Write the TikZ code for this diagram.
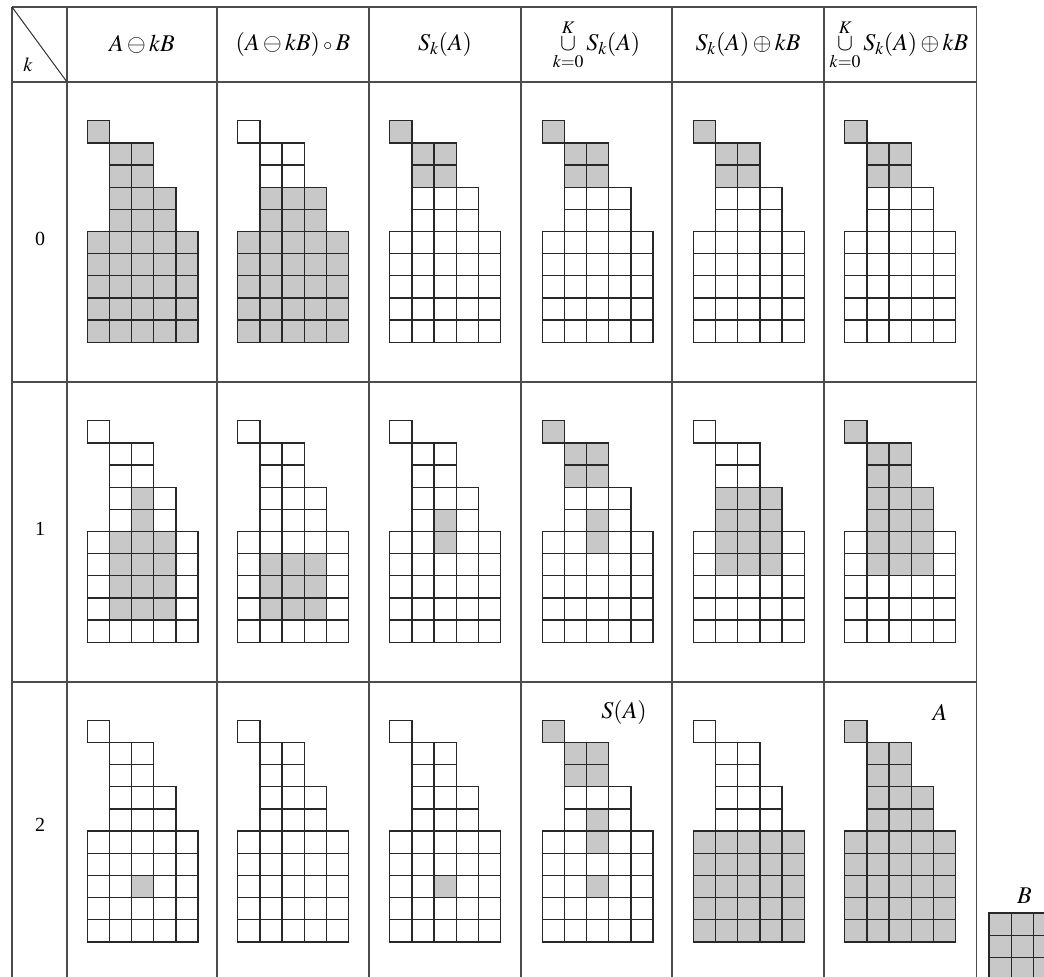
\documentclass[tikz,border=0pt]{standalone}
\usepackage{mathptmx}
\usepackage{fontspec}
\setmainfont{Liberation Serif}
\definecolor{cellgray}{RGB}{200,200,200}
\definecolor{linecol}{RGB}{40,40,40}
\def\cs{22.16}
\def\Acells{0/0,1/1,1/2,2/1,2/2,3/1,3/2,3/3,4/1,4/2,4/3,5/0,5/1,5/2,5/3,5/4,6/0,6/1,6/2,6/3,6/4,7/0,7/1,7/2,7/3,7/4,8/0,8/1,8/2,8/3,8/4,9/0,9/1,9/2,9/3,9/4}
\def\Szero{0/0,1/1,1/2,2/1,2/2}
\def\Openzero{3/1,3/2,3/3,4/1,4/2,4/3,5/0,5/1,5/2,5/3,5/4,6/0,6/1,6/2,6/3,6/4,7/0,7/1,7/2,7/3,7/4,8/0,8/1,8/2,8/3,8/4,9/0,9/1,9/2,9/3,9/4}
\def\Erone{3/2,4/2,5/1,5/2,5/3,6/1,6/2,6/3,7/1,7/2,7/3,8/1,8/2,8/3}
\def\Openone{6/1,6/2,6/3,7/1,7/2,7/3,8/1,8/2,8/3}
\def\Sone{4/2,5/2}
\def\Uone{0/0,1/1,1/2,2/1,2/2,4/2,5/2}
\def\Done{3/1,3/2,3/3,4/1,4/2,4/3,5/1,5/2,5/3,6/1,6/2,6/3}
\def\UDone{0/0,1/1,1/2,2/1,2/2,3/1,3/2,3/3,4/1,4/2,4/3,5/1,5/2,5/3,6/1,6/2,6/3}
\def\Stwo{7/2}
\def\Utwo{0/0,1/1,1/2,2/1,2/2,4/2,5/2,7/2}
\def\Dtwo{5/0,5/1,5/2,5/3,5/4,6/0,6/1,6/2,6/3,6/4,7/0,7/1,7/2,7/3,7/4,8/0,8/1,8/2,8/3,8/4,9/0,9/1,9/2,9/3,9/4}
\newcommand\shapegrid[3]{%
  \ifx\relax#3\else
    \foreach \ri/\ci in #3 {\fill[cellgray] ({#1+\ci*\cs},{#2+\ri*\cs}) rectangle ++(\cs,\cs);}
  \fi
  \foreach \ri/\ci in \Acells {\draw[cellline] ({#1+\ci*\cs},{#2+\ri*\cs}) rectangle ++(\cs,\cs);}
}
\begin{document}
\begin{tikzpicture}[x=1pt,y=-1pt,
  cellline/.style={draw=linecol,line width=1.3pt},
  tableline/.style={draw=black!70,line width=1.5pt},
  head/.style={inner sep=0pt,font=\fontsize{24}{28}\selectfont},
  lab/.style={inner sep=0pt,font=\fontsize{20}{24}\selectfont},
  biglab/.style={inner sep=0pt,font=\fontsize{24}{28}\selectfont}]
\useasboundingbox (0,0) rectangle (1044,977);
\clip (0,0) rectangle (1044,977);
% table lines
\draw[tableline] (12,7) -- (976.5,7);
\foreach \yy in {82,382,682} {\draw[tableline] (12,\yy) -- (976.5,\yy);}
\foreach \xx in {12,67,217,369,521,672,824,976.5} {\draw[tableline] (\xx,7) -- (\xx,980);}
\draw[black!80,line width=1pt] (12,7) -- (67,82);
% header
\node[lab] (hk) at (28,65) {$k$};
\node[head] (h1) at (142,44.5) {$A\ominus kB$};
\node[head] (h2) at (293,44.5) {$(A\ominus kB)\mathbin{\scriptstyle\circ} B$};
\node[head] (h3) at (445,44.5) {$S_k(A)$};
\node[head] (h4) at (596.5,44.5) {$\mathop{\cup}\limits_{k=0}^{K} S_k(A)$};
\node[head] (h5) at (748,44.5) {$S_k(A)\oplus kB$};
\node[head] (h6) at (899,44.5) {$\mathop{\cup}\limits_{k=0}^{K} S_k(A)\oplus kB$};
% row labels
\node[lab] (r0) at (40,239) {0};
\node[lab] (r1) at (40,529) {1};
\node[lab] (r2) at (40,825) {2};
% row 0
\shapegrid{87.3}{120.7}{\Acells}
\shapegrid{237.7}{120.7}{\Openzero}
\shapegrid{389.7}{120.7}{\Szero}
\shapegrid{542.3}{120.7}{\Szero}
\shapegrid{693.5}{120.7}{\Szero}
\shapegrid{844.7}{120.7}{\Szero}
% row 1
\shapegrid{87.3}{420.7}{\Erone}
\shapegrid{237.7}{420.7}{\Openone}
\shapegrid{389.7}{420.7}{\Sone}
\shapegrid{542.3}{420.7}{\Uone}
\shapegrid{693.5}{420.7}{\Done}
\shapegrid{844.7}{420.7}{\UDone}
% row 2
\shapegrid{87.3}{720.3}{\Stwo}
\shapegrid{237.7}{720.3}{\relax}
\shapegrid{389.7}{720.3}{\Stwo}
\shapegrid{542.3}{720.3}{\Utwo}
\shapegrid{693.5}{720.3}{\Dtwo}
\shapegrid{844.7}{720.3}{\Acells}
\node[biglab] (sa) at (624,712) {$S(A)$};
\node[biglab] (aa) at (940,712) {$A$};
% structuring element B
\node[biglab] (bb) at (1024.5,896) {$B$};
\foreach \ri in {0,1,2} {\foreach \ci in {0,1,2} {
  \fill[cellgray] ({989+\ci*\cs},{913+\ri*\cs}) rectangle ++(\cs,\cs);
  \draw[cellline] ({989+\ci*\cs},{913+\ri*\cs}) rectangle ++(\cs,\cs);}}
\end{tikzpicture}
\end{document}
